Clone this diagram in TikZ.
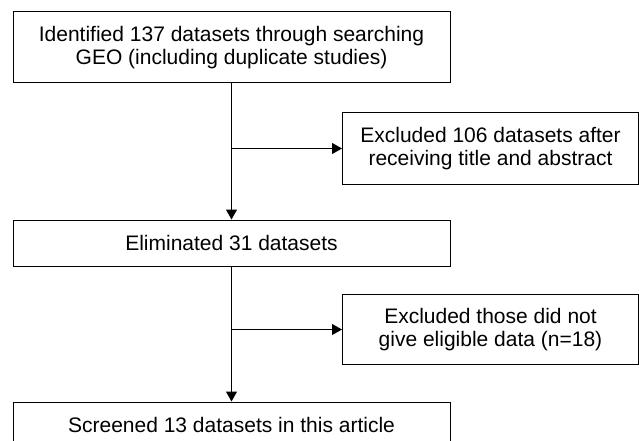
\documentclass[tikz,border=0pt]{standalone}
\usepackage{fontspec}
\setmainfont{Liberation Sans}
\usetikzlibrary{positioning,arrows.meta}
\tikzset{
    stagebox/.style = {
        draw,
        line width=1pt,
        minimum width=437pt,
        align=center,
        inner sep=0pt,
        font=\fontsize{21}{23}\selectfont,
        },
    exclbox/.style = {
        stagebox,
        minimum width=296pt,
        minimum height=71pt,
        anchor=west,
        },
    flow/.style = {
        line width=1pt,
        -{Triangle[length=10pt,width=11pt]},
        },
}
\begin{document}
\begin{tikzpicture}
    \clip (0,0) rectangle (639pt,-441pt);
    \useasboundingbox (0,0) rectangle (639pt,-441pt);

    \node[stagebox, minimum height=71pt] (search) at (231.5pt,-47.5pt)
        {Identified 137 datasets through searching\\GEO (including duplicate studies)};
    \coordinate[below=65pt of search] (b1);
    \node[exclbox, right=110.5pt of b1] (excl1)
        {Excluded 106 datasets after\\receiving title and abstract};
    \node[stagebox, minimum height=46pt, below=136pt of search] (elim)
        {Eliminated 31 datasets};
    \coordinate[below=63pt of elim] (b2);
    \node[exclbox, right=110.5pt of b2, minimum height=70pt] (excl2)
        {Excluded those did not\\give eligible data (n=18)};
    \node[stagebox, minimum height=46pt, below=135pt of elim] (final)
        {Screened 13 datasets in this article};

    \draw[flow] (search) -- (elim);
    \draw[flow] (b1) -- (excl1);
    \draw[flow] (elim) -- (final);
    \draw[flow] (b2) -- (excl2);
\end{tikzpicture}
\end{document}
